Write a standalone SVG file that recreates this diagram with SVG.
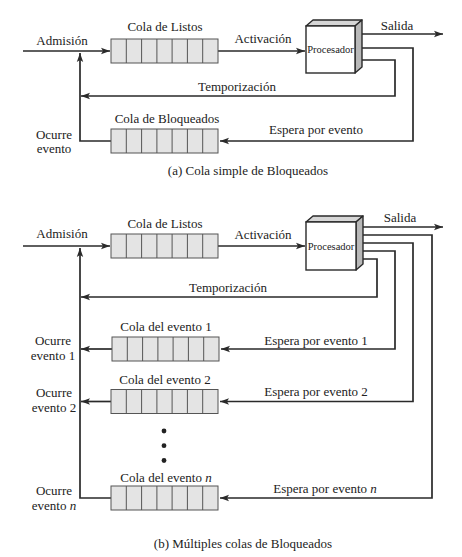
<svg xmlns="http://www.w3.org/2000/svg" xmlns:xlink="http://www.w3.org/1999/xlink" width="462" height="557" viewBox="0 0 462 557">
<style>
text{font-family:"Liberation Serif","Times New Roman",serif;font-size:13px;fill:#222;text-anchor:middle}
.small{font-size:10.5px}
.c{fill:none;stroke:#2a2a2a;stroke-width:1.7}
.qb{fill:#e4e4e4;stroke:#555;stroke-width:1}
.ql{stroke:#555;stroke-width:1}
.pf{fill:#fff;stroke:#2a2a2a;stroke-width:1.4}
.pt{fill:#d6d6d6;stroke:#2a2a2a;stroke-width:1.4;stroke-linejoin:round}
.pr{fill:#b8b8b8;stroke:#2a2a2a;stroke-width:1.4;stroke-linejoin:round}
.dot{fill:#222}
</style>
<defs>
<marker id="ah" markerUnits="userSpaceOnUse" markerWidth="10" markerHeight="8" refX="9" refY="4" orient="auto">
<path d="M0,0.8 L9,4 L0,7.2 L2,4 z" fill="#2a2a2a"/>
</marker>
<g id="queue">
<rect class="qb" x="0" y="0" width="107" height="24"/>
<path class="ql" d="M15.3,0V24M30.6,0V24M45.9,0V24M61.1,0V24M76.4,0V24M91.7,0V24"/>
</g>
</defs>

<g id="connectors">
<!-- (a) -->
<path class="c" d="M23,51H110" marker-end="url(#ah)"/>
<path class="c" d="M218,51H305" marker-end="url(#ah)"/>
<path class="c" d="M357,34H443" marker-end="url(#ah)"/>
<path class="c" d="M357,48H413V141H220" marker-end="url(#ah)"/>
<path class="c" d="M357,60H395V96H81" marker-end="url(#ah)"/>
<path class="c" d="M111,141H80V53" marker-end="url(#ah)"/>
<!-- (b) -->
<path class="c" d="M23,246H110" marker-end="url(#ah)"/>
<path class="c" d="M218,246H305" marker-end="url(#ah)"/>
<path class="c" d="M358,227H443" marker-end="url(#ah)"/>
<path class="c" d="M358,235H432V498H220" marker-end="url(#ah)"/>
<path class="c" d="M358,243H413V401.5H220" marker-end="url(#ah)"/>
<path class="c" d="M358,251H395V349H221" marker-end="url(#ah)"/>
<path class="c" d="M358,259H377V297H81" marker-end="url(#ah)"/>
<path class="c" d="M111,498H80V248" marker-end="url(#ah)"/>
<path class="c" d="M112,349H81" marker-end="url(#ah)"/>
<path class="c" d="M111,401.5H81" marker-end="url(#ah)"/>
</g>

<!-- (a) Cola simple -->
<g id="a-listos">
<use xlink:href="#queue" href="#queue" x="111" y="39"/>
<text x="165" y="30.5">Cola de Listos</text>
</g>
<g id="a-procesador">
<polygon class="pt" points="306,26 313,20 362,20 355,26"/>
<polygon class="pr" points="355,26 362,20 362,67 355,73"/>
<rect class="pf" x="306" y="26" width="49" height="47"/>
<text class="small" x="330.5" y="53">Procesador</text>
</g>
<g id="a-bloqueados">
<use xlink:href="#queue" href="#queue" x="111" y="129"/>
<text x="167" y="122.5">Cola de Bloqueados</text>
</g>
<g id="a-labels">
<text x="62" y="44.5">Admisión</text>
<text x="263" y="43">Activación</text>
<text x="397" y="29.5">Salida</text>
<text x="237" y="90.5">Temporización</text>
<text x="316" y="133.5">Espera por evento</text>
<text x="54" y="138.5">Ocurre</text>
<text x="54" y="153">evento</text>
<text x="248" y="174.5">(a) Cola simple de Bloqueados</text>
</g>

<!-- (b) Multiples colas -->
<g id="b-listos">
<use xlink:href="#queue" href="#queue" x="111" y="234"/>
<text x="165" y="227.5">Cola de Listos</text>
</g>
<g id="b-procesador">
<polygon class="pt" points="306,222 313,216 363,216 356,222"/>
<polygon class="pr" points="356,222 363,216 363,264 356,270"/>
<rect class="pf" x="306" y="222" width="50" height="48"/>
<text class="small" x="331" y="249.5">Procesador</text>
</g>
<g id="b-evento1">
<use xlink:href="#queue" href="#queue" x="112" y="337"/>
<text x="166" y="330.5">Cola del evento 1</text>
</g>
<g id="b-evento2">
<use xlink:href="#queue" href="#queue" x="111" y="389.5"/>
<text x="165" y="383.5">Cola del evento 2</text>
</g>
<g id="b-dots">
<circle class="dot" cx="164" cy="431" r="2.4"/>
<circle class="dot" cx="164" cy="445.7" r="2.4"/>
<circle class="dot" cx="164" cy="460.5" r="2.4"/>
</g>
<g id="b-eventon">
<use xlink:href="#queue" href="#queue" x="111" y="486"/>
<text x="166" y="481.5">Cola del evento <tspan font-style="italic">n</tspan></text>
</g>
<g id="b-labels">
<text x="62" y="237.5">Admisión</text>
<text x="263" y="238.5">Activación</text>
<text x="400" y="221.5">Salida</text>
<text x="228" y="291.5">Temporización</text>
<text x="316" y="344.5">Espera por evento 1</text>
<text x="316" y="396">Espera por evento 2</text>
<text x="325" y="492.5">Espera por evento <tspan font-style="italic">n</tspan></text>
<text x="53" y="345">Ocurre</text>
<text x="53" y="360">evento 1</text>
<text x="54" y="397">Ocurre</text>
<text x="54" y="412">evento 2</text>
<text x="54" y="495">Ocurre</text>
<text x="54" y="510">evento <tspan font-style="italic">n</tspan></text>
<text x="243" y="547.5">(b) Múltiples colas de Bloqueados</text>
</g>
</svg>
